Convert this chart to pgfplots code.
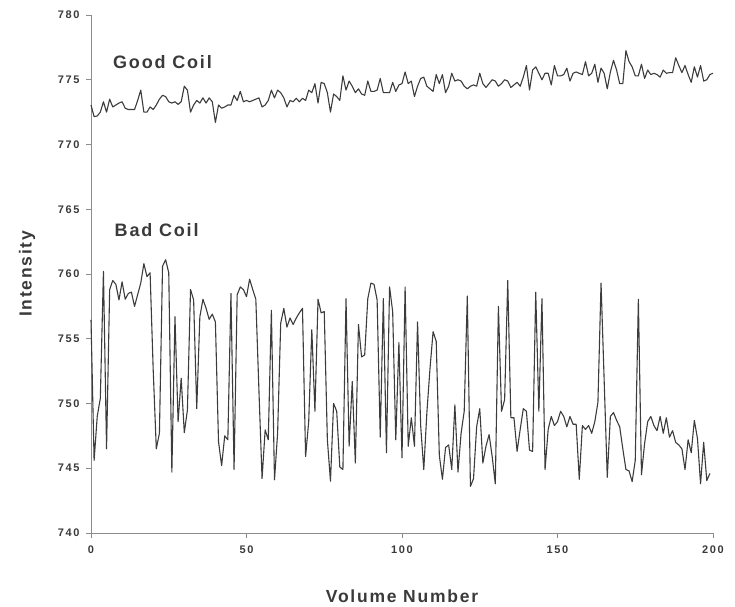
\documentclass[border=0pt]{standalone}
\usepackage{pgfplots}
\pgfplotsset{compat=1.18}
\usepackage{pgfplotstable}
\usepackage{fontspec}
\setmainfont{Liberation Sans}
\newfontfamily\trackfont[LetterSpace=10]{Liberation Sans}
\newfontfamily\tickfont[LetterSpace=15]{Liberation Sans}
\definecolor{axisgray}{HTML}{8C8C8C}
\definecolor{linegray}{HTML}{3C3C3C}
\definecolor{textgray}{HTML}{3A3A3A}

% Mean intensity per volume, good receive coil
\pgfplotstableread{
x y
0 773.05
1 772.15
2 772.2
3 772.5
4 773.3
5 772.5
6 773.5
7 772.9
8 773.05
9 773.2
10 773.3
11 772.8
12 772.7
13 772.7
14 772.7
15 773.4
16 774.2
17 772.5
18 772.5
19 772.9
20 772.7
21 773.05
22 773.5
23 773.8
24 773.7
25 773.3
26 773.2
27 773.3
28 773.1
29 773.3
30 774.5
31 774.2
32 772.5
33 773.05
34 773.4
35 773.2
36 773.6
37 773.2
38 773.6
39 773.3
40 771.7
41 773.05
42 772.8
43 772.9
44 773.05
45 773.05
46 773.8
47 773.4
48 774.1
49 773.3
50 773.4
51 773.3
52 773.4
53 773.5
54 773.6
55 772.9
56 773.05
57 773.4
58 774.2
59 773.6
60 774.2
61 774.0
62 773.6
63 772.9
64 773.4
65 773.3
66 773.57
67 773.3
68 773.57
69 773.4
70 774.2
71 774.0
72 774.7
73 773.2
74 774.8
75 774.7
76 774.0
77 772.5
78 773.9
79 773.7
80 773.4
81 775.3
82 774.2
83 774.9
84 774.5
85 774.0
86 774.3
87 773.9
88 773.8
89 774.9
90 774.1
91 774.1
92 774.2
93 775.1
94 774.0
95 774.0
96 774.0
97 774.8
98 774.1
99 774.6
100 774.7
101 775.6
102 774.7
103 774.9
104 773.7
105 774.5
106 775.1
107 775.2
108 774.5
109 774.3
110 774.1
111 775.4
112 774.7
113 775.4
114 774.0
115 774.5
116 775.5
117 774.9
118 775.0
119 774.9
120 774.5
121 774.3
122 774.5
123 774.6
124 774.5
125 775.5
126 774.7
127 774.4
128 774.7
129 775.0
130 774.9
131 774.5
132 774.7
133 775.0
134 774.9
135 774.4
136 774.6
137 774.8
138 774.5
139 775.2
140 776.1
141 774.2
142 775.75
143 776.0
144 775.5
145 775.0
146 775.5
147 775.5
148 774.6
149 776.1
150 775.3
151 775.3
152 775.4
153 775.9
154 774.9
155 775.5
156 775.6
157 775.5
158 775.4
159 776.4
160 775.3
161 775.5
162 776.2
163 774.8
164 775.9
165 775.5
166 774.3
167 775.6
168 776.5
169 775.75
170 774.7
171 774.7
172 777.25
173 776.4
174 776.0
175 775.3
176 775.3
177 776.2
178 775.1
179 775.75
180 775.4
181 775.5
182 775.4
183 775.2
184 775.75
185 775.5
186 775.55
187 775.55
188 776.7
189 776.1
190 775.55
191 776.1
192 775.4
193 774.8
194 776.0
195 775.2
196 776.1
197 774.9
198 775.0
199 775.4
200 775.5
}\goodcoil

% Mean intensity per volume, faulty receive coil
\pgfplotstableread{
x y
0 756.45
1 745.6
2 749.0
3 750.4
4 760.2
5 746.5
6 758.8
7 759.5
8 759.2
9 758.0
10 759.4
11 758.05
12 758.5
13 758.6
14 757.5
15 758.4
16 759.3
17 760.8
18 759.8
19 760.1
20 752.6
21 746.5
22 747.7
23 760.6
24 761.1
25 760.1
26 744.7
27 756.7
28 748.6
29 751.95
30 747.75
31 749.5
32 758.8
33 758.0
34 749.6
35 756.7
36 758.05
37 757.35
38 756.5
39 756.9
40 756.3
41 747.06
42 745.2
43 747.5
44 747.2
45 758.5
46 744.9
47 758.4
48 759.0
49 758.8
50 758.25
51 759.6
52 758.8
53 758.05
54 751.0
55 744.2
56 747.96
57 747.2
58 757.2
59 744.1
60 747.7
61 756.2
62 757.35
63 755.9
64 756.6
65 756.1
66 756.6
67 757.0
68 757.35
69 745.9
70 748.6
71 755.7
72 749.4
73 758.05
74 757.0
75 757.1
76 747.2
77 744.0
78 750.0
79 749.4
80 745.1
81 744.9
82 758.1
83 746.7
84 751.7
85 745.4
86 756.1
87 753.6
88 753.75
89 758.1
90 759.3
91 759.2
92 758.0
93 747.4
94 758.1
95 746.2
96 759.0
97 757.1
98 747.2
99 754.7
100 745.8
101 759.0
102 746.7
103 748.9
104 746.7
105 756.3
106 748.3
107 744.9
108 749.3
109 752.7
110 755.55
111 754.8
112 746.0
113 744.15
114 746.6
115 746.8
116 744.9
117 749.9
118 744.7
119 747.7
120 749.4
121 758.3
122 743.6
123 744.2
124 748.2
125 749.6
126 745.4
127 746.7
128 747.6
129 745.9
130 743.8
131 757.5
132 749.4
133 750.3
134 759.5
135 748.9
136 748.9
137 746.3
138 748.0
139 749.6
140 749.4
141 746.4
142 746.3
143 758.6
144 749.4
145 758.1
146 744.9
147 748.0
148 749.0
149 748.3
150 748.6
151 749.4
152 749.0
153 748.2
154 749.0
155 748.4
156 748.4
157 744.15
158 748.3
159 748.0
160 748.3
161 747.7
162 748.6
163 750.1
164 759.3
165 751.8
166 744.3
167 749.0
168 749.3
169 748.7
170 748.2
171 746.5
172 744.9
173 744.8
174 743.97
175 745.6
176 758.05
177 744.5
178 746.9
179 748.6
180 749.0
181 748.3
182 747.9
183 749.0
184 747.7
185 748.9
186 747.4
187 747.9
188 747.0
189 746.8
190 746.5
191 744.9
192 747.2
193 746.2
194 748.7
195 747.3
196 743.8
197 747.0
198 744.05
199 744.6
}\badcoil

\begin{document}
\begin{tikzpicture}
\useasboundingbox (-91pt,-73pt) rectangle (644pt,533pt);
\begin{axis}[
  anchor=south west, at={(0pt,0pt)},
  scale only axis, width=622pt, height=518pt,
  xmin=0, xmax=200, ymin=740, ymax=780,
  axis x line=bottom, axis y line=left,
  axis line style={-, draw=axisgray, line width=1pt},
  xtick={0,50,...,200}, ytick={740,745,...,780},
  tick align=outside, major tick length=5pt,
  tick style={draw=axisgray, line width=0.8pt},
  /pgf/number format/assume math mode=true,
  ticklabel style={font=\tickfont\bfseries\fontsize{11}{13}\selectfont, text=textgray},
  xticklabel style={yshift=-4pt},
  yticklabel style={xshift=-3pt},
  clip=false,
]
\addplot[linegray, line width=1.1pt, line join=round] table[x=x, y=y] {\goodcoil};
\addplot[linegray, line width=1.1pt, line join=round] table[x=x, y=y] {\badcoil};
\node[anchor=west, text=textgray, font=\trackfont\bfseries\fontsize{18}{21}\selectfont] at (axis cs:6,776.4) {Good Coil};
\node[anchor=west, text=textgray, font=\trackfont\bfseries\fontsize{18}{21}\selectfont] at (axis cs:6.5,763.4) {Bad Coil};
\end{axis}
\node[rotate=90, text=textgray, font=\trackfont\bfseries\fontsize{17.5}{20}\selectfont] at (-64pt,259pt) {Intensity};
\node[text=textgray, font=\trackfont\bfseries\fontsize{17.5}{20}\selectfont] at (311pt,-63pt) {Volume Number};
\end{tikzpicture}
\end{document}
